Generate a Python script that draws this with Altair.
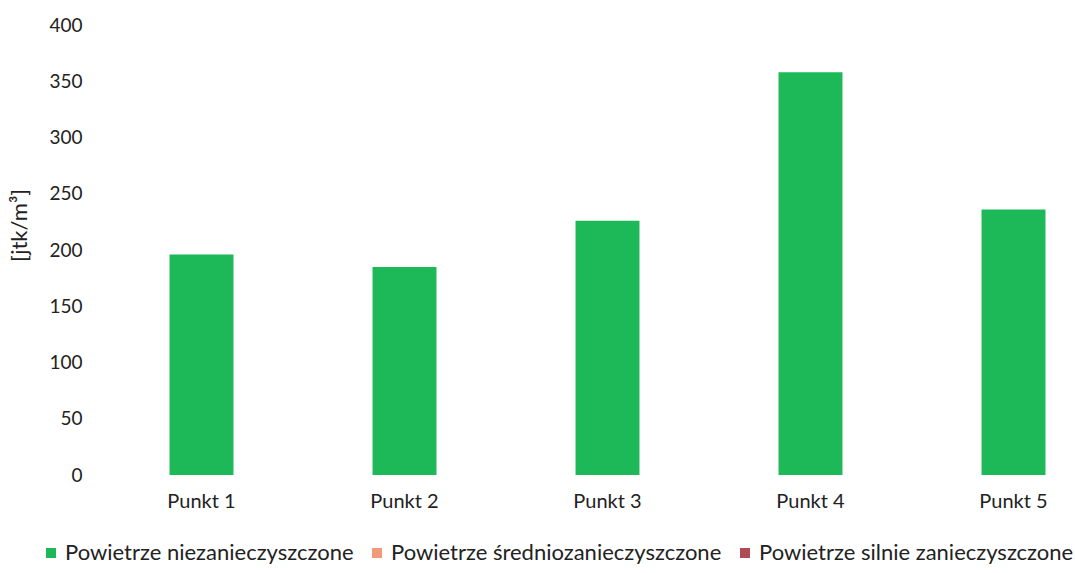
import altair as alt
import pandas as pd

categories = ["Punkt 1", "Punkt 2", "Punkt 3", "Punkt 4", "Punkt 5"]
values = [196, 185, 226, 358, 236]
series_names = ["Powietrze niezanieczyszczone", "Powietrze średniozanieczyszczone", "Powietrze silnie zanieczyszczone"]
series_colors = ["#1DB858", "#F09A78", "#B04A55"]
y_ticks = [0, 50, 100, 150, 200, 250, 300, 350, 400]

df = pd.DataFrame({"punkt": categories, "value": values, "seria": series_names[0]})

FONT = "Lato"

chart = alt.Chart(df).mark_bar().encode(
    x=alt.X("punkt:N", sort=categories,
            scale=alt.Scale(range=[0, 1015], paddingInner=0.685, paddingOuter=0.3425),
            axis=alt.Axis(title=None, labelAngle=0, labelFontSize=20, labelPadding=16,
                          labelColor="#222", domain=False, ticks=False, labelFont=FONT)),
    y=alt.Y("value:Q", scale=alt.Scale(domain=[0, 400]),
            axis=alt.Axis(values=y_ticks, title="[jtk/m³]", titleFontSize=22, titleFont=FONT,
                          titleFontWeight="normal", titleColor="#222", titleX=-69, titleY=200,
                          labelFontSize=19, labelFont=FONT, labelColor="#222", labelPadding=18,
                          domain=False, ticks=False, grid=False)),
    color=alt.Color("seria:N",
                    scale=alt.Scale(domain=series_names, range=series_colors),
                    legend=alt.Legend(title=None, orient="none", direction="horizontal",
                                      legendX=-60, legendY=517, labelFontSize=22, labelFont=FONT,
                                      labelColor="#222", symbolType="square", symbolSize=100,
                                      symbolStrokeWidth=0, columnPadding=12, labelOffset=3,
                                      labelLimit=400)),
).properties(
    width=975, height=450,
    autosize=alt.AutoSizeParams(type="none"),
    padding={"left": 100, "top": 25, "right": 0, "bottom": 98},
    background="white",
).configure_view(strokeWidth=0)

chart.save("out.html", embed_options={"renderer": "svg", "actions": False})
